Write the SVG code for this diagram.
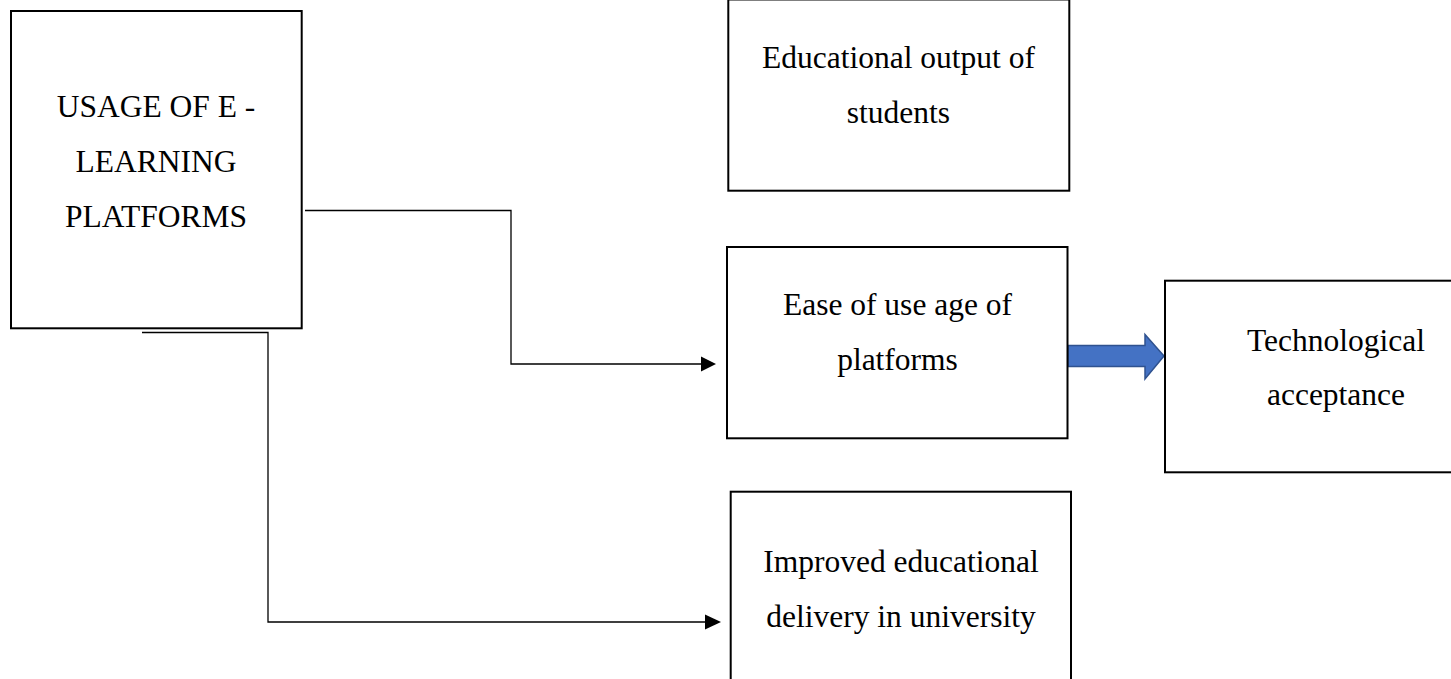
<svg xmlns="http://www.w3.org/2000/svg" width="1451" height="679" viewBox="0 0 1451 679">
<style>
.box{fill:#fff;stroke:#000;stroke-width:2}
.lbl{font-family:"Liberation Serif","Times New Roman",serif;font-size:31.5px;fill:#000;text-anchor:middle}
.conn{fill:none;stroke:#000;stroke-width:1.3}
.head{fill:#000;stroke:none}
</style>
<rect width="1451" height="679" fill="#fff"/>
<g id="connectors">
<polyline class="conn" points="305,210.5 511,210.5 511,364 703,364"/>
<polygon class="head" points="701,356.5 716,364 701,371.5"/>
<polyline class="conn" points="142,332.5 268,332.5 268,622 707,622"/>
<polygon class="head" points="705,614.5 721,622 705,629.5"/>
<polygon id="blue-arrow" points="1068,345.5 1145,345.5 1145,334.5 1164,356 1145,379 1145,366.5 1068,366.5" fill="#4472C4" stroke="#2F528F" stroke-width="1.5"/>
</g>
<g id="node-usage">
<rect class="box" x="11" y="11" width="290.7" height="317.3"/>
<text class="lbl" x="156" y="117">USAGE OF E -</text>
<text class="lbl" x="156" y="172">LEARNING</text>
<text class="lbl" x="156" y="227">PLATFORMS</text>
</g>
<g id="node-output">
<rect class="box" x="728.3" y="-0.5" width="341" height="191.2"/>
<text class="lbl" x="898.5" y="68">Educational output of</text>
<text class="lbl" x="898.5" y="123">students</text>
</g>
<g id="node-ease">
<rect class="box" x="727" y="247" width="340.5" height="191.3"/>
<text class="lbl" x="897.5" y="315">Ease of use age of</text>
<text class="lbl" x="897.5" y="370">platforms</text>
</g>
<g id="node-tech">
<rect class="box" x="1165" y="280.7" width="300" height="191.6"/>
<text class="lbl" x="1336" y="351">Technological</text>
<text class="lbl" x="1336" y="405">acceptance</text>
</g>
<g id="node-improved">
<rect class="box" x="730.7" y="491.7" width="340.3" height="200"/>
<text class="lbl" x="901" y="572">Improved educational</text>
<text class="lbl" x="901" y="627">delivery in university</text>
</g>
</svg>
